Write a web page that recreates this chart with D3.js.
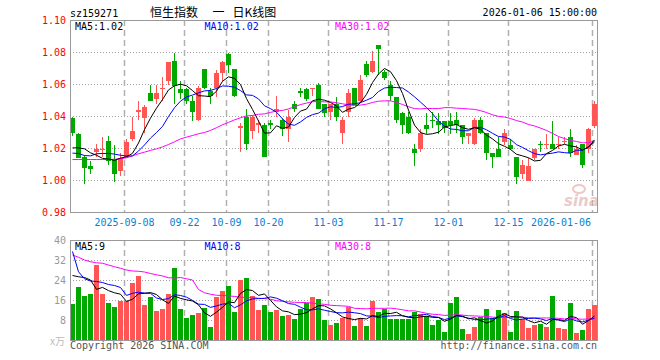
<!DOCTYPE html>
<html lang="zh">
<head>
  <meta charset="utf-8">
  <title>恒生指数 日K线图</title>
  <script src="https://cdnjs.cloudflare.com/ajax/libs/d3/7.8.5/d3.min.js"></script>
  <style>
    body { margin: 0; background: #fff; }
    svg { display: block; }
    text { font-family: "DejaVu Sans Mono", "Liberation Mono", monospace; font-size: 10px; }
  </style>
</head>
<body>
<script>
  var dates = [
    "2025-08-26","2025-08-27","2025-08-28","2025-08-29",
    "2025-09-01","2025-09-02","2025-09-03","2025-09-04","2025-09-05","2025-09-08","2025-09-09","2025-09-10","2025-09-11","2025-09-12",
    "2025-09-15","2025-09-16","2025-09-17","2025-09-18","2025-09-19","2025-09-22","2025-09-23","2025-09-24","2025-09-25","2025-09-26",
    "2025-09-29","2025-09-30",
    "2025-10-09","2025-10-10","2025-10-13","2025-10-14","2025-10-15","2025-10-16","2025-10-17","2025-10-20","2025-10-21","2025-10-22",
    "2025-10-23","2025-10-24","2025-10-27","2025-10-28","2025-10-29","2025-10-30","2025-10-31",
    "2025-11-03","2025-11-04","2025-11-05","2025-11-06","2025-11-07","2025-11-10","2025-11-11","2025-11-12","2025-11-13","2025-11-14",
    "2025-11-17","2025-11-18","2025-11-19","2025-11-20","2025-11-21","2025-11-24","2025-11-25","2025-11-26","2025-11-27","2025-11-28",
    "2025-12-01","2025-12-02","2025-12-03","2025-12-04","2025-12-05","2025-12-08","2025-12-09","2025-12-10","2025-12-11","2025-12-12",
    "2025-12-15","2025-12-16","2025-12-17","2025-12-18","2025-12-19","2025-12-22","2025-12-23","2025-12-24","2025-12-25","2025-12-26",
    "2025-12-29","2025-12-30","2025-12-31","2026-01-05","2026-01-06"
  ];

  var open = [1.039,1.029,1.015,1.009,1.018,1.020,1.025,1.013,1.006,1.015,
    1.026,1.043,1.039,1.055,1.051,1.057,1.062,1.075,1.057,1.057,
    1.050,1.038,1.070,1.056,1.058,1.067,1.079,1.070,1.033,1.040,
    1.031,1.035,1.035,1.036,1.043,1.038,1.032,1.048,1.056,1.057,
    1.058,1.060,1.048,1.043,1.048,1.030,1.043,1.058,1.050,1.073,
    1.068,1.085,1.068,1.060,1.052,1.042,1.040,1.020,1.020,1.035,
    1.038,1.037,1.037,1.037,1.038,1.035,1.028,1.023,1.038,1.030,
    1.017,1.020,1.024,1.022,1.015,1.004,1.000,1.014,1.023,1.023,
    1.023,1.023,1.024,1.027,1.016,1.023,1.020,1.034];
  var high = [1.040,1.030,1.016,1.012,1.023,1.027,1.028,1.022,1.017,1.026,
    1.040,1.050,1.047,1.060,1.060,1.065,1.074,1.080,1.062,1.058,
    1.053,1.059,1.070,1.058,1.069,1.075,1.080,1.070,1.036,1.045,
    1.041,1.038,1.036,1.038,1.053,1.039,1.044,1.050,1.058,1.058,
    1.058,1.061,1.048,1.048,1.052,1.040,1.057,1.058,1.066,1.075,
    1.081,1.085,1.069,1.062,1.052,1.043,1.043,1.023,1.032,1.042,
    1.043,1.042,1.037,1.042,1.043,1.035,1.030,1.039,1.040,1.030,
    1.017,1.027,1.032,1.026,1.015,1.013,1.014,1.020,1.025,1.029,
    1.037,1.027,1.027,1.032,1.022,1.023,1.033,1.050];
  var low = [1.028,1.014,0.998,1.004,1.015,1.015,1.010,0.999,1.003,1.015,
    1.025,1.038,1.030,1.050,1.048,1.050,1.060,1.048,1.051,1.048,
    1.037,1.037,1.057,1.048,1.052,1.062,1.067,1.052,1.018,1.019,
    1.026,1.030,1.015,1.032,1.040,1.028,1.024,1.043,1.052,1.050,
    1.053,1.045,1.040,1.038,1.037,1.023,1.040,1.047,1.049,1.065,
    1.067,1.066,1.063,1.050,1.036,1.029,1.029,1.009,1.018,1.029,
    1.033,1.029,1.030,1.029,1.030,1.023,1.023,1.022,1.029,1.013,
    1.008,1.015,1.022,1.019,0.998,1.001,1.000,1.013,1.018,1.020,
    1.020,1.020,1.023,1.015,1.016,1.008,1.017,1.033];
  var close = [1.030,1.014,1.008,1.007,1.020,1.020,1.012,1.004,1.014,1.024,
    1.031,1.044,1.046,1.050,1.055,1.058,1.074,1.059,1.055,1.050,
    1.043,1.058,1.058,1.053,1.067,1.074,1.072,1.053,1.034,1.023,
    1.040,1.036,1.015,1.035,1.045,1.032,1.040,1.045,1.055,1.051,
    1.058,1.045,1.042,1.048,1.040,1.038,1.055,1.047,1.063,1.066,
    1.075,1.082,1.064,1.053,1.038,1.035,1.030,1.017,1.030,1.032,
    1.037,1.035,1.033,1.035,1.035,1.027,1.030,1.038,1.030,1.017,
    1.015,1.015,1.030,1.020,1.002,1.010,1.009,1.020,1.022,1.023,
    1.020,1.023,1.025,1.017,1.020,1.010,1.032,1.048];
  // volume in 万
  var volume = [14.5,21.3,17.7,18.5,30.2,18.5,14.9,13.3,15.7,15.7,
    23.0,25.8,14.1,17.3,11.7,12.5,18.5,29.0,12.5,8.9,
    10.1,10.9,12.9,5.6,17.3,19.7,21.7,11.3,24.2,25.0,
    17.7,12.1,14.1,11.3,12.1,9.7,10.1,8.5,12.5,14.9,
    17.3,16.5,8.1,6.4,7.2,8.9,13.3,6.0,8.9,6.0,
    15.7,11.3,12.5,8.5,8.5,8.5,8.5,11.3,10.5,9.7,
    6.4,8.1,3.6,14.9,17.3,4.8,2.8,5.6,9.3,12.5,
    8.9,12.1,10.9,3.6,11.7,8.5,5.2,6.4,6.8,5.6,
    17.7,5.2,4.8,14.9,3.2,4.4,12.5,14.1];

  // moving averages at the left edge (window reaches before the first day shown)
  var ma5Head = [1.0204,1.0204,1.0198,1.0173];
  var ma10Head = [1.0171,1.0169,1.0156,1.0154,1.0167,1.0169,1.0169,1.0165,1.0158];
  var ma30Head = [1.0131,1.0131,1.0131,1.0131,1.0131,1.0131,1.0131,1.0133,1.0136,1.0142,
    1.0154,1.0167,1.0177,1.0188,1.0198,1.0210,1.0225,1.0242,1.0260,1.0271,
    1.0281,1.0292,1.0300,1.0313,1.0330,1.0348,1.0363,1.0379,1.0392];
  var vma5Head = [26.0,25.5,25.2,24.2];
  var vma10Head = [35.6,27.5,24.7,23.8,23.6,23.2,22.4,22.0,21.2];
  var vma30Head = [34.2,33.3,32.2,31.5,31.1,30.9,30.2,29.5,28.9,28.2,
    27.8,27.7,27.4,26.8,26.3,25.8,25.1,25.0,25.2,24.7,
    24.2,20.4,19.1,18.5,18.1,18.0,17.9,17.6,17.4];

  var tickDates = ["2025-09-08","2025-09-22","2025-10-09","2025-10-20","2025-11-03","2025-11-17","2025-12-01","2025-12-15","2026-01-06"];
  var tickLabels = ["2025-09-08","09-22","10-09","10-20","11-03","11-17","12-01","12-15","2026-01-06"];
  var priceTicks = [0.98,1.00,1.02,1.04,1.06,1.08,1.10];
  var volTicks = [8,16,24,32,40];
  var priceLegend = ["MA5:1.02","MA10:1.02","MA30:1.02"];
  var volLegend = ["MA5:9","MA10:8","MA30:8"];

  var width = 660, height = 360;
  var left = 70, right = 597;
  var pTop = 20, pBottom = 212;
  var vTop = 240, vBottom = 340;
  var red = "#ff5555", green = "#00a800";
  var maColors = ["#000000", "#0000ff", "#ff00ff"];

  var svg = d3.select("body").append("svg")
    .attr("width", width)
    .attr("height", height);

  var x = d3.scaleBand().domain(dates).range([left, left + 6 * dates.length]);
  var yP = d3.scaleLinear().domain([0.98, 1.10]).range([pBottom + 0.5, pTop + 0.5]);
  var yV = d3.scaleLinear().domain([0, 40]).range([vBottom + 0.5, vTop + 0.5]);

  function movingAvg(vals, n, head) {
    return vals.map(function (v, i) {
      if (i < n - 1) return head[i];
      return d3.mean(vals.slice(i - n + 1, i + 1));
    });
  }

  var candles = dates.map(function (d, i) {
    return {date: d, o: open[i], h: high[i], l: low[i], c: close[i], v: volume[i], up: close[i] >= open[i]};
  });

  // header
  svg.append("text").attr("x", 70).attr("y", 17).text("sz159271");
  svg.append("text").attr("x", right).attr("y", 16).attr("text-anchor", "end").text("2026-01-06 15:00:00");
  var title = svg.append("g")
    .style("font-family", "'Noto Sans CJK SC', sans-serif")
    .style("font-size", "12px");
  title.append("text").attr("x", 150).attr("y", 16.5).style("font-family", "inherit").style("font-size", "inherit").text("恒生指数");
  title.append("text").attr("x", 212.5).attr("y", 16.5).style("font-family", "inherit").style("font-size", "inherit").text("一");
  title.append("text").attr("x", 232.5).attr("y", 16.5).style("font-family", "inherit").style("font-size", "inherit").text("日K线图");

  // grids
  function hGrid(scale, ticks) {
    svg.append("g").selectAll("line")
      .data(ticks)
      .enter().append("line")
      .attr("x1", left).attr("x2", right)
      .attr("y1", function (d) { return Math.floor(scale(d)) + 0.5; })
      .attr("y2", function (d) { return Math.floor(scale(d)) + 0.5; })
      .attr("stroke", "#a0a0a0")
      .attr("stroke-dasharray", "1,2");
  }
  hGrid(yP, [1.00, 1.02, 1.04, 1.06, 1.08]);
  hGrid(yV, [8, 16, 24, 32]);

  [[pTop, pBottom], [vTop, vBottom]].forEach(function (r) {
    svg.append("g").selectAll("line")
      .data(tickDates)
      .enter().append("line")
      .attr("x1", function (d) { return x(d) + 0.5; })
      .attr("x2", function (d) { return x(d) + 0.5; })
      .attr("y1", r[0]).attr("y2", r[1])
      .attr("stroke", "#b0b0b0")
      .attr("stroke-width", 1.5)
      .attr("stroke-dasharray", "6,4");
  });

  // watermark
  var wm = svg.append("g").attr("opacity", 0.55);
  wm.append("ellipse").attr("cx", 579).attr("cy", 189).attr("rx", 6).attr("ry", 4)
    .attr("fill", "none").attr("stroke", "#e89a9a").attr("stroke-width", 2);
  wm.append("text").attr("x", 564).attr("y", 206)
    .style("font-family", "'DejaVu Sans', sans-serif").style("font-size", "15px")
    .style("font-style", "italic").style("font-weight", "bold")
    .attr("fill", "#dca0a0").text("sina");

  // candles
  var cg = svg.append("g").attr("shape-rendering", "crispEdges");
  cg.selectAll("line")
    .data(candles)
    .enter().append("line")
    .attr("x1", function (d) { return x(d.date) + 2.5; })
    .attr("x2", function (d) { return x(d.date) + 2.5; })
    .attr("y1", function (d) { return yP(d.h); })
    .attr("y2", function (d) { return yP(d.l); })
    .attr("stroke", function (d) { return d.up ? red : green; });
  cg.selectAll("rect")
    .data(candles)
    .enter().append("rect")
    .attr("x", function (d) { return x(d.date); })
    .attr("width", 5)
    .attr("y", function (d) { return yP(Math.max(d.o, d.c)); })
    .attr("height", function (d) { return Math.max(1, Math.abs(yP(d.o) - yP(d.c))); })
    .attr("fill", function (d) { return d.up ? red : green; });

  // volume bars
  svg.append("g").attr("shape-rendering", "crispEdges")
    .selectAll("rect")
    .data(candles)
    .enter().append("rect")
    .attr("x", function (d) { return x(d.date); })
    .attr("width", 5)
    .attr("y", function (d) { return yV(d.v); })
    .attr("height", function (d) { return yV(0) - yV(d.v); })
    .attr("fill", function (d) { return d.up ? red : green; });

  // moving average lines
  var priceMA = [movingAvg(close, 5, ma5Head), movingAvg(close, 10, ma10Head), movingAvg(close, 30, ma30Head)];
  var volMA = [movingAvg(volume, 5, vma5Head), movingAvg(volume, 10, vma10Head), movingAvg(volume, 30, vma30Head)];

  function drawMA(series, scale) {
    var line = d3.line()
      .x(function (d, i) { return x(dates[i]) + 2.5; })
      .y(function (d) { return scale(d); });
    svg.append("g").selectAll("path")
      .data(series.slice().reverse())
      .enter().append("path")
      .attr("d", line)
      .attr("fill", "none")
      .attr("stroke-width", 1)
      .attr("stroke", function (d, i) { return maColors[2 - i]; });
  }
  drawMA(priceMA, yP);
  drawMA(volMA, yV);

  // frames
  svg.append("rect").attr("x", left + 0.5).attr("y", pTop + 0.5)
    .attr("width", right - left).attr("height", pBottom - pTop)
    .attr("fill", "none").attr("stroke", "#999");
  svg.append("rect").attr("x", left + 0.5).attr("y", vTop + 0.5)
    .attr("width", right - left).attr("height", vBottom - vTop)
    .attr("fill", "none").attr("stroke", "#999");

  // axes
  var pAxis = svg.append("g")
    .attr("transform", "translate(" + left + ",0)")
    .call(d3.axisLeft(yP).tickValues(priceTicks).tickFormat(d3.format(".2f")).tickSize(0).tickPadding(4));
  pAxis.select(".domain").remove();
  pAxis.selectAll("text").attr("fill", "#ff0000")
    .style("font-family", "'DejaVu Sans Mono', monospace").style("font-size", "10px");

  var vAxis = svg.append("g")
    .attr("transform", "translate(" + left + ",0)")
    .call(d3.axisLeft(yV).tickValues(volTicks).tickFormat(d3.format("d")).tickSize(0).tickPadding(4));
  vAxis.select(".domain").remove();
  vAxis.selectAll("text").attr("fill", "#999")
    .style("font-family", "'DejaVu Sans Mono', monospace").style("font-size", "10px");
  svg.append("text").attr("x", 65).attr("y", 345).attr("text-anchor", "end")
    .attr("fill", "#bbb").style("font-family", "'Noto Sans CJK SC', serif").style("font-size", "10px")
    .text("x万");

  svg.append("g").selectAll("text")
    .data(tickDates)
    .enter().append("text")
    .attr("x", function (d, i) {
      var half = tickLabels[i].length * 3;
      return Math.min(x(d) + 0.5, 591 - half);
    })
    .attr("y", 226)
    .attr("text-anchor", "middle")
    .attr("fill", "#0a7fd0")
    .text(function (d, i) { return tickLabels[i]; });

  // legends
  var legendX = [75, 204.5, 335];
  svg.append("g").selectAll("text")
    .data(priceLegend)
    .enter().append("text")
    .attr("x", function (d, i) { return legendX[i]; })
    .attr("y", 30)
    .attr("fill", function (d, i) { return maColors[i]; })
    .text(function (d) { return d; });
  svg.append("g").selectAll("text")
    .data(volLegend)
    .enter().append("text")
    .attr("x", function (d, i) { return legendX[i]; })
    .attr("y", 250)
    .attr("fill", function (d, i) { return maColors[i]; })
    .text(function (d) { return d; });

  // footer
  svg.append("text").attr("x", 70).attr("y", 349).attr("fill", "#555").text("Copyright 2026 SINA.COM");
  svg.append("text").attr("x", right).attr("y", 349).attr("text-anchor", "end").attr("fill", "#555").text("http://finance.sina.com.cn");
</script>
</body>
</html>
